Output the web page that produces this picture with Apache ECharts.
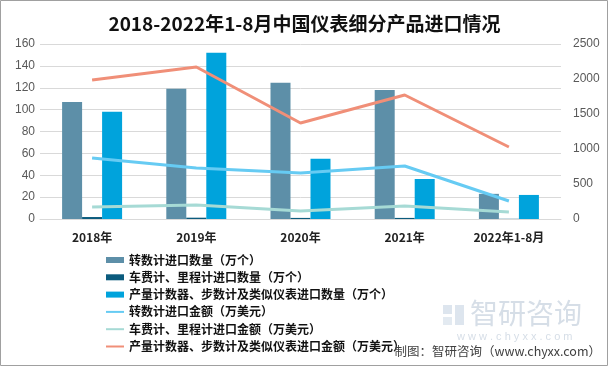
<!DOCTYPE html>
<html><head><meta charset="utf-8">
<script src="https://cdn.jsdelivr.net/npm/echarts@6/dist/echarts.min.js"></script>
<style>html,body{margin:0;padding:0;background:#fff}#c{width:609px;height:367px}</style>
</head><body><div id="c"></div>
<script>
const categories = ['2018年','2019年','2020年','2021年','2022年1-8月'];
const tachQty = [107, 119, 124.5, 118, 23];
const taxiQty = [1.8, 1.2, 1.0, 1.0, 0.2];
const counterQty = [98, 152, 55, 36.6, 22];
const tachAmt = [871, 729, 657, 757, 257];
const taxiAmt = [171, 200, 114, 186, 100];
const counterAmt = [1986, 2171, 1371, 1771, 1029];
const names = ['转数计进口数量（万个）','车费计、里程计进口数量（万个）','产量计数器、步数计及类似仪表进口数量（万个）','转数计进口金额（万美元）','车费计、里程计进口金额（万美元）','产量计数器、步数计及类似仪表进口金额（万美元）'];
const colors = ['#5D8FA8','#0B5B7D','#00A3DC','#66CBF3','#A6DAD5','#F08F78'];
const FONT = '"Noto Sans CJK SC","Liberation Sans",sans-serif';
const chart = echarts.init(document.getElementById('c'), null, {renderer:'canvas'});
function bar(i, data){return {name:names[i],type:'bar',data:data,barWidth:20,barGap:'0%',itemStyle:{color:colors[i]},z:2};}
function line(i, data){return {name:names[i],type:'line',yAxisIndex:1,data:data,symbol:'none',lineStyle:{width:3,color:colors[i]},itemStyle:{color:colors[i]},z:5};}
const hideSym = {color:'rgba(0,0,0,0)',borderWidth:0,opacity:0};
chart.setOption({
  animation:false,
  title:{text:'2018-2022年1-8月中国仪表细分产品进口情况',left:'center',top:9,textStyle:{fontFamily:FONT,fontSize:19,fontWeight:'bold',color:'#111'}},
  grid:{left:40,right:48,top:44,bottom:148},
  legend:{orient:'vertical',left:100,top:248,itemWidth:18,itemHeight:6,itemGap:3.3,
    textStyle:{fontFamily:FONT,fontSize:12,fontWeight:'bold',color:'#111',lineHeight:14},
    data:[{name:names[0],icon:'rect'},{name:names[1],icon:'rect'},{name:names[2],icon:'rect'},
      {name:names[3],itemStyle:hideSym},{name:names[4],itemStyle:hideSym},{name:names[5],itemStyle:hideSym}]},
  xAxis:{type:'category',data:categories,axisLine:{lineStyle:{color:'#d9d9d9'}},axisTick:{show:false},
    axisLabel:{fontFamily:FONT,fontSize:12,fontWeight:'bold',color:'#222',margin:12}},
  yAxis:[
    {type:'value',min:0,max:160,interval:20,axisLabel:{fontFamily:'"Liberation Sans",sans-serif',fontSize:12,color:'#595959',margin:5},splitLine:{lineStyle:{color:'#d9d9d9'}},axisLine:{show:false}},
    {type:'value',min:0,max:2500,interval:500,axisLabel:{fontFamily:'"Liberation Sans",sans-serif',fontSize:12,color:'#595959',margin:12,formatter:function(v){return String(v);}},splitLine:{show:false},axisLine:{show:false}}
  ],
  series:[bar(0,tachQty),bar(1,taxiQty),bar(2,counterQty),line(3,tachAmt),line(4,taxiAmt),line(5,counterAmt)],
  graphic:[
    {type:'rect',shape:{x:0.5,y:0.5,width:607,height:365},style:{fill:'none',stroke:'#a0a0a0',lineWidth:1},z:100},
    {type:'rect',shape:{x:443,y:305,width:9,height:9},style:{fill:'#dde5ee'},z:0},
    {type:'rect',shape:{x:455,y:305,width:9,height:20},style:{fill:'#dde5ee'},z:0},
    {type:'rect',shape:{x:443,y:317,width:9,height:8},style:{fill:'#e3eaf1'},z:0},
    {type:'text',left:470,top:299,style:{text:'智研咨询',font:'28px "Noto Sans CJK SC"',fill:'#d6dee7'},z:0},
    {type:'text',left:457,top:331,style:{text:'w w w . c h y x x . c o m',font:'11px "Liberation Sans"',fill:'#d6dee7'},z:0},
    {type:'text',right:8,top:345,style:{text:'制图：智研咨询（www.chyxx.com）',font:'12.5px "Noto Sans CJK SC"',fill:'#404040'},z:10}
  ]
});
</script></body></html>
